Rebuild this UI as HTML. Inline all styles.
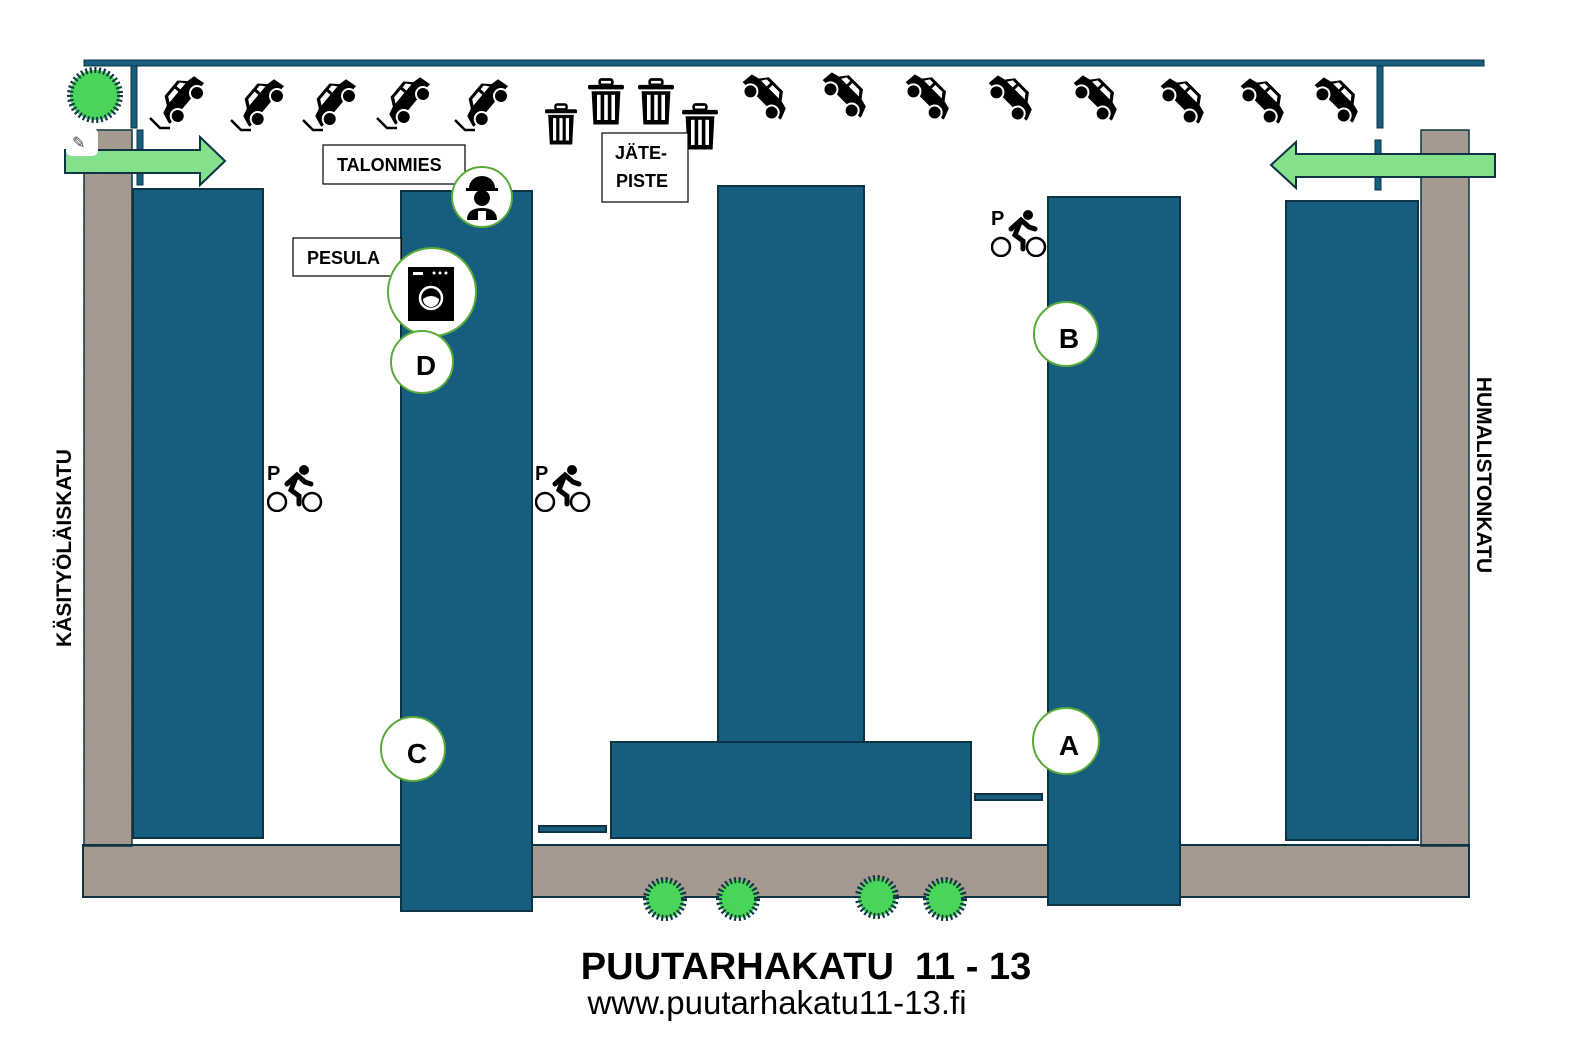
<!DOCTYPE html>
<html><head><meta charset="utf-8"><style>
html,body{margin:0;padding:0;background:#fff;width:1586px;height:1037px;overflow:hidden;}
svg{display:block;}
text{font-family:"Liberation Sans",sans-serif;}
</style></head><body>
<svg width="1586" height="1037" viewBox="0 0 1586 1037" xmlns="http://www.w3.org/2000/svg">
<defs>
<filter id="grav" x="0" y="0" width="100%" height="100%">
<feTurbulence type="fractalNoise" baseFrequency="0.9" numOctaves="2" seed="3" result="n"/>
<feColorMatrix in="n" type="matrix" values="0 0 0 0 0.35  0 0 0 0 0.31  0 0 0 0 0.28  0 0 0 -3 1.9" result="c"/>
<feComposite in="c" in2="SourceGraphic" operator="in"/>
</filter>
<symbol id="car" viewBox="-30 -20 60 40">
<path d="M-26,4 L-22,-6 L-14,-8 L-8,-16 L12,-16 L18,-8 L26,-6 L27,6 L-26,6Z" fill="#000"/>
<path d="M-6,-13 L4,-13 L4,-8 L-10,-8Z M7,-13 L12,-13 L15,-8 L7,-8Z" fill="#fff"/>
<circle cx="-15" cy="7" r="7" fill="#000" stroke="#fff" stroke-width="2"/>
<circle cx="15" cy="7" r="7" fill="#000" stroke="#fff" stroke-width="2"/>
</symbol>
<symbol id="bin" viewBox="0 0 40 50">
<rect x="13" y="0" width="14" height="6" rx="2" fill="none" stroke="#000" stroke-width="3"/>
<rect x="0" y="6" width="40" height="5" rx="2" fill="#000"/>
<path d="M4,13 H36 L34,50 H6Z" fill="#000"/>
<rect x="10" y="17" width="4" height="28" fill="#fff"/><rect x="18" y="17" width="4" height="28" fill="#fff"/><rect x="26" y="17" width="4" height="28" fill="#fff"/>
</symbol>
<symbol id="bike" viewBox="0 0 56 50">
<text x="0" y="18" font-size="20" font-weight="bold" fill="#000" font-family="Liberation Sans">P</text>
<circle cx="37" cy="8" r="5" fill="#000"/>
<path d="M20,22 L30,13 L38,20 L44,22 M30,13 L24,28 L32,34 L32,42" stroke="#000" stroke-width="5" fill="none" stroke-linecap="round"/>
<circle cx="10" cy="40" r="9" fill="none" stroke="#000" stroke-width="2.5"/>
<circle cx="45" cy="40" r="9" fill="none" stroke="#000" stroke-width="2.5"/>
</symbol>
</defs>

<g>
<rect x="84" y="130" width="48" height="716" fill="#a99b8e"/>
<rect x="84" y="130" width="48" height="716" fill="#fff" filter="url(#grav)"/>
<rect x="1421" y="130" width="48" height="716" fill="#a99b8e"/>
<rect x="1421" y="130" width="48" height="716" fill="#fff" filter="url(#grav)"/>
<rect x="83" y="845" width="1386" height="52" fill="#a99b8e"/>
<rect x="83" y="845" width="1386" height="52" fill="#fff" filter="url(#grav)"/>
<rect x="84" y="130" width="48" height="716" fill="none" stroke="#0d3344" stroke-width="1.5"/>
<rect x="1421" y="130" width="48" height="716" fill="none" stroke="#0d3344" stroke-width="1.5"/>
<rect x="83" y="845" width="1386" height="52" fill="none" stroke="#0d3344" stroke-width="2"/>
</g>

<rect x="84" y="60" width="1400" height="6" fill="#175e7e" stroke="#0d3344" stroke-width="1"/>
<rect x="131" y="66" width="6" height="62" fill="#175e7e" stroke="#0d3344" stroke-width="1"/>
<rect x="137" y="130" width="6" height="55" fill="#175e7e" stroke="#0d3344" stroke-width="1"/>
<rect x="1377" y="66" width="6" height="62" fill="#175e7e" stroke="#0d3344" stroke-width="1"/>
<rect x="1375" y="140" width="6" height="50" fill="#175e7e" stroke="#0d3344" stroke-width="1"/>

<g fill="#175e7e" stroke="#0d3344" stroke-width="2">
<rect x="133" y="189" width="130" height="649"/>
<rect x="401" y="191" width="131" height="720"/>
<rect x="718" y="186" width="146" height="557"/>
<rect x="611" y="742" width="360" height="96"/>
<rect x="1048" y="197" width="132" height="708"/>
<rect x="1286" y="201" width="132" height="639"/>
<rect x="539" y="826" width="67" height="6"/>
<rect x="975" y="794" width="67" height="6"/>
</g>

<path d="M65,150 H200 V137 L225,161 L200,185 V173 H65Z" fill="#85e08c" stroke="#0d3344" stroke-width="2"/>
<path d="M1495,154 H1296 V142 L1271,165 L1296,188 V177 H1495Z" fill="#85e08c" stroke="#0d3344" stroke-width="2"/>
<rect x="66" y="128" width="32" height="28" rx="6" fill="#fff"/>
<text x="72" y="148" font-size="16" fill="#444">✎</text>

<g fill="#48d55a" stroke="#0d3344" stroke-width="6" stroke-dasharray="2 2.5">
<circle cx="95" cy="95" r="25"/>
<circle cx="665" cy="899" r="19"/>
<circle cx="738" cy="899" r="19"/>
<circle cx="877" cy="897" r="19"/>
<circle cx="945" cy="899" r="19"/>
</g>

<g>
<g transform="translate(182,100) rotate(-50)"><use href="#car" x="-30" y="-20" width="60" height="40"/></g>
<g transform="translate(262,103) rotate(-50)"><use href="#car" x="-30" y="-20" width="60" height="40"/></g>
<g transform="translate(334,103) rotate(-50)"><use href="#car" x="-30" y="-20" width="60" height="40"/></g>
<g transform="translate(408,101) rotate(-50)"><use href="#car" x="-30" y="-20" width="60" height="40"/></g>
<g transform="translate(486,103) rotate(-50)"><use href="#car" x="-30" y="-20" width="60" height="40"/></g>
<g stroke="#000" stroke-width="2.5" fill="none">
<path d="M150,118 l10,10 h10"/><path d="M231,120 l10,10 h10"/><path d="M303,120 l10,10 h10"/><path d="M377,118 l10,10 h10"/><path d="M455,120 l10,10 h10"/>
</g>
</g>

<g>
<g transform="translate(766,97) rotate(45) scale(-1,1)"><use href="#car" x="-30" y="-20" width="60" height="40"/></g>
<g transform="translate(846,95) rotate(45) scale(-1,1)"><use href="#car" x="-30" y="-20" width="60" height="40"/></g>
<g transform="translate(929,97) rotate(45) scale(-1,1)"><use href="#car" x="-30" y="-20" width="60" height="40"/></g>
<g transform="translate(1012,98) rotate(45) scale(-1,1)"><use href="#car" x="-30" y="-20" width="60" height="40"/></g>
<g transform="translate(1097,98) rotate(45) scale(-1,1)"><use href="#car" x="-30" y="-20" width="60" height="40"/></g>
<g transform="translate(1184,101) rotate(45) scale(-1,1)"><use href="#car" x="-30" y="-20" width="60" height="40"/></g>
<g transform="translate(1264,101) rotate(45) scale(-1,1)"><use href="#car" x="-30" y="-20" width="60" height="40"/></g>
<g transform="translate(1338,100) rotate(45) scale(-1,1)"><use href="#car" x="-30" y="-20" width="60" height="40"/></g>
</g>

<use href="#bin" x="545" y="101" width="32" height="47"/>
<use href="#bin" x="588" y="78" width="36" height="48"/>
<use href="#bin" x="638" y="78" width="36" height="48"/>
<use href="#bin" x="682" y="103" width="36" height="48"/>

<g fill="#fff" stroke="#000" stroke-width="1.2">
<rect x="323" y="145" width="142" height="39"/>
<rect x="293" y="238" width="108" height="38"/>
<rect x="602" y="133" width="86" height="69"/>
</g>
<g font-weight="bold" font-size="18" fill="#000">
<text x="337" y="171">TALONMIES</text>
<text x="307" y="264">PESULA</text>
<text x="615" y="159">JÄTE-</text>
<text x="616" y="187">PISTE</text>
</g>

<g fill="#fff" stroke="#5aaa3c" stroke-width="2">
<circle cx="482" cy="197" r="30"/>
<circle cx="432" cy="292" r="44"/>
<circle cx="422" cy="362" r="31"/>
<circle cx="413" cy="749" r="32"/>
<circle cx="1066" cy="334" r="32"/>
<circle cx="1066" cy="741" r="33"/>
</g>
<g font-weight="bold" font-size="28" fill="#000" text-anchor="middle">
<text x="426" y="375">D</text>
<text x="417" y="763">C</text>
<text x="1069" y="348">B</text>
<text x="1069" y="755">A</text>
</g>
<g fill="#000">
<path d="M469,188 a13,12 0 0 1 26,0 h3 v3 h-32 v-3z"/>
<circle cx="482" cy="198" r="8"/>
<path d="M467,220 q0,-12 15,-12 q15,0 15,12 z"/>
</g>
<rect x="478" y="211" width="8" height="9" fill="#fff"/>
<rect x="408" y="267" width="46" height="54" fill="#000"/>
<rect x="413" y="272" width="10" height="3" fill="#fff"/>
<circle cx="434" cy="273" r="1.5" fill="#fff"/><circle cx="440" cy="273" r="1.5" fill="#fff"/><circle cx="446" cy="273" r="1.5" fill="#fff"/>
<circle cx="431" cy="298" r="11" fill="none" stroke="#fff" stroke-width="2.5"/>
<path d="M423,299 q8,-6 16,0 a8,8 0 0 1 -16,0z" fill="#fff"/>

<use href="#bike" x="267" y="462" width="56" height="50"/>
<use href="#bike" x="535" y="462" width="56" height="50"/>
<use href="#bike" x="991" y="207" width="56" height="50"/>

<text transform="translate(71,548) rotate(-90)" text-anchor="middle" font-weight="bold" font-size="21" fill="#000">KÄSITYÖLÄISKATU</text>
<text transform="translate(1477,475) rotate(90)" text-anchor="middle" font-weight="bold" font-size="21" fill="#000">HUMALISTONKATU</text>

<text x="806" y="979" text-anchor="middle" font-weight="bold" font-size="38" fill="#000" xml:space="preserve">PUUTARHAKATU  11 - 13</text>
<text x="777" y="1014" text-anchor="middle" font-size="33" fill="#000">www.puutarhakatu11-13.fi</text>
</svg>
</body></html>
